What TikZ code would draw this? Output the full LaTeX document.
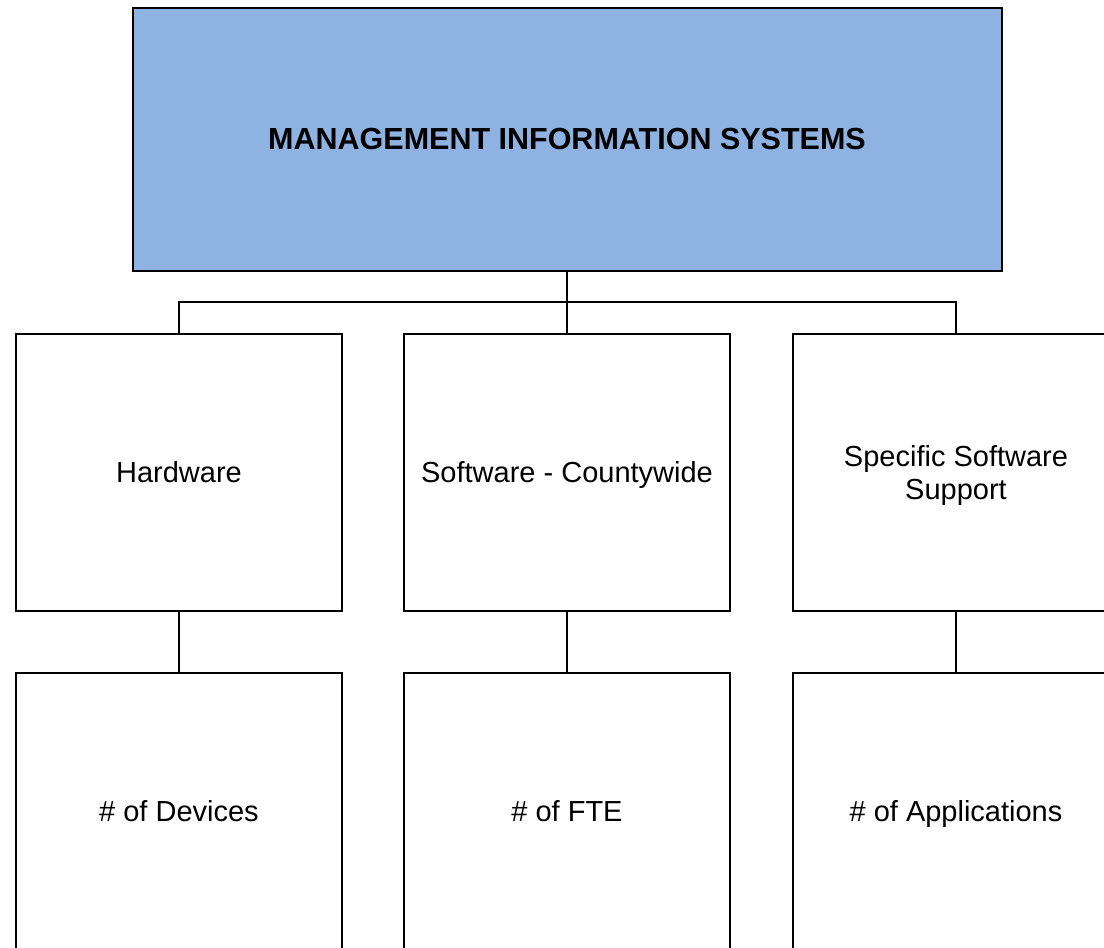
\documentclass[tikz,border=0pt]{standalone}
\usepackage{fontspec}
\setmainfont{Liberation Sans}
\definecolor{headblue}{HTML}{8EB3E3}
\begin{document}
\begin{tikzpicture}[x=1pt,y=-1pt,
  box/.style={draw=black,line width=2pt,minimum width=326pt,minimum height=277pt,
    inner sep=0pt,align=center,font=\fontsize{29}{33}\selectfont},
  oneline/.style={text height=23pt,text depth=4pt},
  twolines/.style={text height=58pt,text depth=4pt},
  headbox/.style={box,oneline,fill=headblue,minimum width=869pt,minimum height=263pt,
    font=\fontsize{30.5}{33}\selectfont\bfseries},
  link/.style={draw=black,line width=2pt}]
\useasboundingbox (0,0) rectangle (1104,948);
\clip (0,0) rectangle (1104,948);
% head of the unit
\node[headbox] (mis) at (567,139.5) {MANAGEMENT INFORMATION SYSTEMS};
% service areas
\node[box,oneline] (hw) at (179,472.5) {Hardware};
\node[box,oneline] (sw) at (567,472.5) {Software - Countywide};
\node[box,twolines] (ss) at (956,472.5) {Specific Software\\Support};
% measures
\node[box,oneline] (dev) at (179,811.5) {\# of Devices};
\node[box,oneline] (fte) at (567,811.5) {\# of FTE};
\node[box,oneline] (app) at (956,811.5) {\# of Applications};
% branch lines
\coordinate (bus) at (567,302);
\draw[link] (mis.south) -- (bus);
\draw[link] (hw.north) |- (bus) -| (ss.north);
\draw[link] (bus) -- (sw.north);
\draw[link] (hw) -- (dev);
\draw[link] (sw) -- (fte);
\draw[link] (ss) -- (app);
\end{tikzpicture}
\end{document}
